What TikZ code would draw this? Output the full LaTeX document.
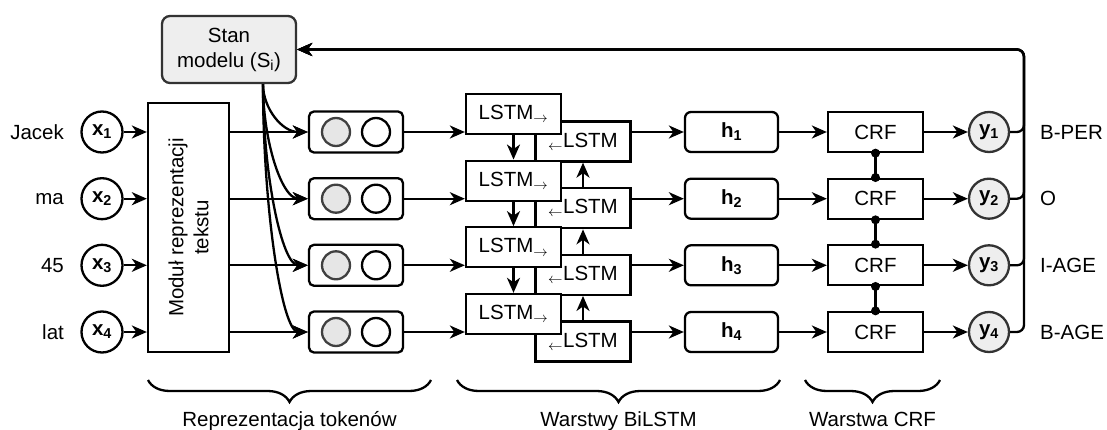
\documentclass[tikz,border=0pt]{standalone}
\usepackage{fontspec}
\setmainfont{Liberation Sans}
\usetikzlibrary{arrows.meta, calc, decorations.pathreplacing}
\definecolor{stategray}{HTML}{EEEEEE}
\definecolor{cellgray}{HTML}{E6E6E6}

\begin{document}
\begin{tikzpicture}[x=1pt, y=-1pt, line width=2.3pt,
  >={Stealth[length=15pt, width=13pt, inset=4.5pt]},
  every node/.style={font=\fontsize{20.5}{25}\selectfont, inner sep=0pt},
  inp/.style={circle, draw, minimum size=41pt, font=\fontsize{20.5}{25}\selectfont\bfseries},
  tokbox/.style={draw, rounded corners=5pt, minimum width=94pt, minimum height=41pt},
  cell/.style={circle, draw, minimum size=28pt},
  lstm/.style={draw, fill=white, minimum width=95pt, minimum height=40pt},
  hbox/.style={draw, rounded corners=6pt, minimum width=93pt, minimum height=40pt,
    font=\fontsize{20.5}{25}\selectfont\bfseries},
  crf/.style={draw, minimum width=95pt, minimum height=40pt},
  outp/.style={circle, draw=black!80, fill=stategray, minimum size=40pt,
    font=\fontsize{20.5}{25}\selectfont\bfseries},
  brace/.style={decorate, decoration={brace, mirror, amplitude=22pt}}]
\useasboundingbox (0,0) rectangle (1107,430);

% Model state
\node[draw=black!80, fill=stategray, rounded corners=8pt, align=center,
  minimum width=134pt, minimum height=67pt] (stan) at (229,49.5) {Stan\\modelu (S\textsubscript{i})};
\coordinate (fan) at ([xshift=34pt]stan.south);
\coordinate (rail) at (1024,49.5);

% Text representation module
\node[draw, rotate=90, align=center, minimum width=249pt, minimum height=81pt]
  (mod) at (188.5,227.5) {Moduł reprezentacji\\tekstu};

% Tokens, inputs, outputs
\foreach \i/\y/\w/\tag in {1/132/Jacek/B-PER, 2/198.7/ma/O, 3/265.3/45/I-AGE, 4/332/lat/B-AGE} {
  \node[anchor=east] (w\i) at (65,\y) {\w};
  \node[inp] (x\i) at (102,\y) {x\textsubscript{\i}};
  \node[tokbox] (t\i) at (356,\y) {};
  \node[cell, draw=black!75, fill=cellgray] (ta\i) at (336,\y) {};
  \node[cell] (tb\i) at (376,\y) {};
  \node[lstm] (b\i) at (583,\y+9.5) {$_{\leftarrow}$LSTM};
  \node[hbox] (h\i) at (731.5,\y) {h\textsubscript{\i}};
  \node[crf] (c\i) at (875.5,\y) {CRF};
  \node[outp] (y\i) at (989,\y) {y\textsubscript{\i}};
  \node[anchor=west] (tag\i) at (1039,\y) {\tag};
}
% forward cells sit on top of the backward ones
\foreach \i/\y in {1/132, 2/198.7, 3/265.3, 4/332}
  \node[lstm] (f\i) at (513.5,\y-18) {LSTM$_{\rightarrow}$};

% Row connections
\foreach \i in {1,...,4} {
  \draw[->] (x\i) -- (x\i -| mod.north);
  \draw[->] (mod.south |- t\i.west) -- (t\i.west);
  \draw[->] (fan) .. controls ($(fan)!0.5!(fan |- t\i.west)$) and ([xshift=-26pt]t\i.west) .. (t\i.west);
  \draw[->] (t\i.east) -- (t\i.east -| f\i.west);
  \draw[->] (b\i.east |- h\i.west) -- (h\i.west);
  \draw[->] (h\i) -- (c\i);
  \draw[->] (c\i) -- (y\i);
  \draw[->, rounded corners=7pt] (y\i.east) -| (rail) -- (stan.east);
}

% Recurrent links and CRF chain
\foreach \i/\j in {1/2, 2/3, 3/4} {
  \draw[->] (f\i.south) -- (f\j.north);
  \draw[->] (b\j.north) -- (b\i.south);
  \draw (c\i.south) -- (c\j.north);
  \fill (c\i.south) circle (4.5pt) (c\j.north) circle (4.5pt);
}

% Layer braces
\draw[brace] (148,380) -- (431,380);
\node[anchor=base] (ltok) at (289.5,426) {Reprezentacja tokenów};
\draw[brace] (457,380) -- (780,380);
\node[anchor=base] (llstm) at (618.5,426) {Warstwy BiLSTM};
\draw[brace] (805,380) -- (940,380);
\node[anchor=base] (lcrf) at (872.5,426) {Warstwa CRF};
\end{tikzpicture}
\end{document}
